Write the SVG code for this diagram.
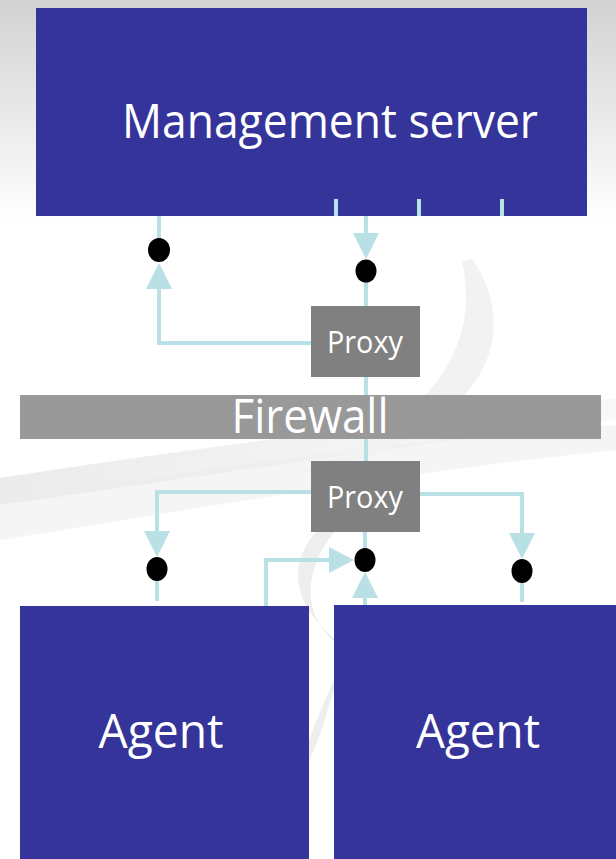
<svg xmlns="http://www.w3.org/2000/svg" width="616" height="859" viewBox="0 0 616 859">
<defs>
<linearGradient id="bg" x1="0" y1="0" x2="0" y2="1">
<stop offset="0" stop-color="#d2d2d2"/>
<stop offset="0.26" stop-color="#ffffff"/>
<stop offset="1" stop-color="#ffffff"/>
</linearGradient>
<linearGradient id="sw" x1="0" y1="0" x2="1" y2="0">
<stop offset="0" stop-color="#e6e6e6"/>
<stop offset="0.5" stop-color="#f0f0f0"/>
<stop offset="1" stop-color="#f6f6f6"/>
</linearGradient>
<style>
.box{fill:#35349a}
.gray{fill:#808080}
.fw{fill:#999999}
.lbl{fill:#ffffff;font-family:"Open Sans","DejaVu Sans",sans-serif;text-anchor:middle}
.ln{stroke:#b9e0e4;stroke-width:4;fill:none}
.ah{fill:#b9e0e4}
.dot{fill:#000000}
</style>
</defs>
<rect width="616" height="859" fill="url(#bg)"/>
<g id="background-swoosh">
<path d="M0,478 C150,455 330,430 616,398 L616,420 C400,445 250,470 0,505 Z" fill="url(#sw)" opacity="0.8"/>
<path d="M0,505 C180,470 400,440 616,425 L616,450 C420,470 250,500 0,540 Z" fill="#ececec" opacity="0.5"/>
<path d="M472,258 C520,330 495,420 330,470 L300,472 C440,420 480,340 462,262 Z" fill="#f2f2f2"/>
<path d="M330,518 C280,560 290,610 350,650 C310,720 300,780 270,830 C320,760 330,700 345,650 C300,620 300,570 340,525 Z" fill="#eeeeee"/>
</g>
<g id="management-server">
<rect class="box" x="36" y="8" width="551" height="208"/>
<text class="lbl" x="330" y="138" font-size="48" textLength="416" lengthAdjust="spacingAndGlyphs">Management server</text>
</g>
<g id="connectors">
<line class="ln" x1="336" y1="199" x2="336" y2="216"/>
<line class="ln" x1="419" y1="199" x2="419" y2="216"/>
<line class="ln" x1="502" y1="199" x2="502" y2="216"/>
<line class="ln" x1="159" y1="216" x2="159" y2="240"/>
<polyline class="ln" points="311,343 159,343 159,285"/>
<polygon class="ah" points="146,289 172,289 159,263"/>
<line class="ln" x1="366" y1="216" x2="366" y2="236"/>
<polygon class="ah" points="353,233 379,233 366,259"/>
<line class="ln" x1="366" y1="281" x2="366" y2="461"/>
<polyline class="ln" points="311,492 157,492 157,534"/>
<polygon class="ah" points="144,531 170,531 157,557"/>
<line class="ln" x1="157" y1="580" x2="157" y2="601"/>
<polyline class="ln" points="420,494 522,494 522,536"/>
<polygon class="ah" points="509,533 535,533 522,559"/>
<line class="ln" x1="522" y1="582" x2="522" y2="602"/>
<line class="ln" x1="365" y1="532" x2="365" y2="550"/>
<polygon class="ah" points="352,598 378,598 365,572"/>
<line class="ln" x1="365" y1="594" x2="365" y2="620"/>
<polyline class="ln" points="266,622 266,560 332,560"/>
<polygon class="ah" points="329,547 329,573 354,560"/>
</g>
<g id="junctions">
<ellipse class="dot" cx="159" cy="250" rx="11" ry="12"/>
<ellipse class="dot" cx="366" cy="271" rx="10.5" ry="11.5"/>
<ellipse class="dot" cx="157" cy="569" rx="10.5" ry="12"/>
<ellipse class="dot" cx="365" cy="560" rx="10.5" ry="12"/>
<ellipse class="dot" cx="522" cy="571" rx="10.5" ry="12"/>
</g>
<g id="firewall">
<rect class="fw" x="20" y="395" width="581" height="44"/>
<text class="lbl" x="310" y="433" font-size="48" textLength="157" lengthAdjust="spacingAndGlyphs">Firewall</text>
</g>
<g id="proxy-top">
<rect class="gray" x="311" y="306" width="109" height="71"/>
<text class="lbl" x="365" y="353" font-size="31" textLength="76" lengthAdjust="spacingAndGlyphs">Proxy</text>
</g>
<g id="proxy-bottom">
<rect class="gray" x="311" y="461" width="109" height="71"/>
<text class="lbl" x="365" y="508" font-size="31" textLength="76" lengthAdjust="spacingAndGlyphs">Proxy</text>
</g>
<g id="agent-left">
<rect class="box" x="20" y="606" width="289" height="253"/>
<text class="lbl" x="161" y="748" font-size="48" textLength="125" lengthAdjust="spacingAndGlyphs">Agent</text>
</g>
<g id="agent-right">
<rect class="box" x="334" y="605" width="282" height="254"/>
<text class="lbl" x="478" y="748" font-size="48" textLength="124" lengthAdjust="spacingAndGlyphs">Agent</text>
</g>
</svg>
